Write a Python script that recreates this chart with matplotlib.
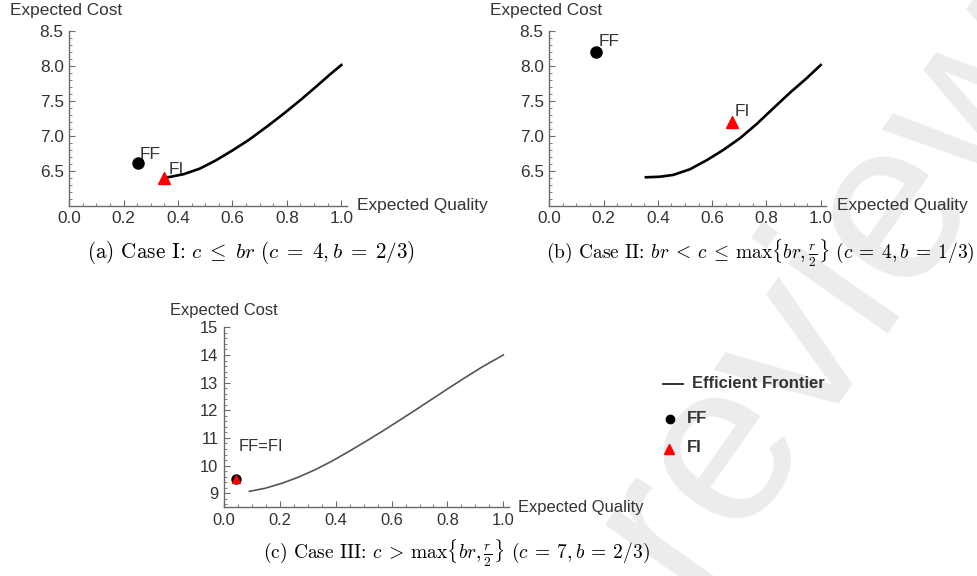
import matplotlib
matplotlib.use("Agg")
import matplotlib.pyplot as plt
from matplotlib.ticker import MultipleLocator, FixedLocator, FormatStrFormatter
from matplotlib.lines import Line2D

# ---------------- data ----------------
a_quality = [0.355, 0.42, 0.48, 0.54, 0.60, 0.66, 0.73, 0.79, 0.85, 0.91, 0.96, 1.0]
a_cost = [6.40, 6.45, 6.53, 6.65, 6.79, 6.94, 7.14, 7.32, 7.51, 7.71, 7.88, 8.01]
a_ff = (0.251, 6.61)
a_fi = (0.35, 6.40)

b_quality = [0.356, 0.408, 0.457, 0.518, 0.58, 0.641, 0.703, 0.764, 0.825, 0.887, 0.948, 1.0]
b_cost = [6.406, 6.414, 6.44, 6.52, 6.65, 6.796, 6.965, 7.167, 7.39, 7.615, 7.82, 8.01]
b_ff = (0.172, 8.19)
b_fi = (0.672, 7.20)

c_quality = [0.091, 0.147, 0.207, 0.266, 0.326, 0.386, 0.445, 0.505, 0.565, 0.624,
             0.684, 0.744, 0.803, 0.863, 0.923, 1.0]
c_cost = [9.07, 9.18, 9.36, 9.58, 9.85, 10.16, 10.50, 10.86, 11.23, 11.61,
          12.00, 12.40, 12.79, 13.18, 13.56, 14.0]
c_ff = (0.043, 9.52)
c_fi = (0.043, 9.50)

x_ticks = [0.0, 0.2, 0.4, 0.6, 0.8, 1.0]
ab_y_ticks = [6.5, 7.0, 7.5, 8.0, 8.5]
c_y_ticks = [9, 10, 11, 12, 13, 14, 15]

captions = [
    r"(a) Case I: $c \;\leq\; br$ $(c \;=\; 4, b \;=\; 2/3)$",
    r"(b) Case II: $br \:<\: c \:\leq\: \max\{br, \frac{r}{2}\}$ $(c \:=\: 4, b \:=\: 1/3)$",
    r"(c) Case III: $c \:>\: \max\{br, \frac{r}{2}\}$ $(c \:=\: 7, b \:=\: 2/3)$",
]

# ---------------- style ----------------
W, H = 978, 576
plt.rcParams["font.family"] = ["Liberation Sans", "DejaVu Sans"]
plt.rcParams["mathtext.fontset"] = "cm"
AX_COL = "#6a6a6a"
TXT_COL = "#333333"

fig = plt.figure(figsize=(W / 100, H / 100), dpi=100)


def P(x, y):
    return x / W, 1 - y / H


# watermark
fig.text(*P(690, 595), "review", rotation=55, rotation_mode="anchor",
         ha="left", va="baseline", fontsize=166, color="#ececec",
         family="Liberation Sans", zorder=-10)


def make_axes(left_px, bottom_px, xscale, yscale, ylim, fs):
    width = xscale * 1.02
    height = yscale * (ylim[1] - ylim[0])
    ax = fig.add_axes([left_px / W, (H - bottom_px) / H, width / W, height / H])
    ax.set_facecolor("none")
    ax.set_xlim(0, 1.02)
    ax.set_ylim(*ylim)
    for s in ("top", "right"):
        ax.spines[s].set_visible(False)
    for s in ("left", "bottom"):
        ax.spines[s].set_color(AX_COL)
        ax.spines[s].set_linewidth(1.0)
    ax.xaxis.set_major_locator(FixedLocator(x_ticks))
    ax.xaxis.set_minor_locator(MultipleLocator(0.05))
    ax.xaxis.set_major_formatter(FormatStrFormatter("%.1f"))
    ax.tick_params(which="both", direction="in", color=AX_COL, labelcolor=TXT_COL,
                   labelsize=fs)
    ax.tick_params(which="major", length=4, width=0.8, pad=4)
    ax.tick_params(which="minor", length=2.2, width=0.6)
    return ax


def label_point(ax, xy, text, dx, dy, fs):
    ax.annotate(text, xy=xy, xytext=(dx, dy), textcoords="offset pixels",
                ha="left", va="bottom", fontsize=fs, color=TXT_COL)


# ---- (a) ----
FS_AB = 12.4
axa = make_axes(69.3, 205.7, 272, 70, (6.0, 8.5), FS_AB)
axa.yaxis.set_major_locator(FixedLocator(ab_y_ticks))
axa.yaxis.set_minor_locator(MultipleLocator(0.1))
axa.yaxis.set_major_formatter(FormatStrFormatter("%.1f"))
axa.plot(a_quality, a_cost, color="black", lw=1.9, solid_joinstyle="round", zorder=2)
axa.plot(*a_ff, "o", color="black", ms=8, zorder=3)
axa.plot(*a_fi, "^", color="#ff0000", ms=8.5, zorder=3)
label_point(axa, a_ff, "FF", 2, 1, FS_AB)
label_point(axa, a_fi, "FI", 4, 1, FS_AB)

# ---- (b) ----
axb = make_axes(549.3, 205.7, 271.4, 70, (6.0, 8.5), FS_AB)
axb.yaxis.set_major_locator(FixedLocator(ab_y_ticks))
axb.yaxis.set_minor_locator(MultipleLocator(0.1))
axb.yaxis.set_major_formatter(FormatStrFormatter("%.1f"))
axb.plot(b_quality, b_cost, color="black", lw=1.9, solid_joinstyle="round", zorder=2)
axb.plot(*b_ff, "o", color="black", ms=8, zorder=3)
axb.plot(*b_fi, "^", color="#ff0000", ms=8.5, zorder=3)
label_point(axb, b_ff, "FF", 3, 3, FS_AB)
label_point(axb, b_fi, "FI", 3, 3, FS_AB)

# ---- (c) ----
FS_C = 11.9
axc = make_axes(224, 507.1, 279.3, 27.66, (8.5, 15.0), FS_C)
axc.yaxis.set_major_locator(FixedLocator(c_y_ticks))
axc.yaxis.set_minor_locator(MultipleLocator(0.2))
axc.plot(c_quality, c_cost, color="#555555", lw=1.2, solid_joinstyle="round", zorder=2)
axc.plot(*c_ff, "o", color="black", ms=6.5, zorder=3)
axc.plot(*c_fi, "^", color="#ff0000", ms=5.5, zorder=4)
axc.annotate("FF=FI", xy=c_ff, xytext=(3, 32), textcoords="offset pixels",
             ha="left", va="center", fontsize=FS_C, color=TXT_COL)

# axis titles
for (xl, yl, xq, yq, fs) in [(10, 10.5, 357, 205.7, FS_AB),
                             (490, 10.5, 837.3, 205.7, FS_AB),
                             (170, 310, 518.3, 507.3, FS_C)]:
    fig.text(*P(xl, yl), "Expected Cost", ha="left", va="center", fontsize=fs, color=TXT_COL)
    fig.text(*P(xq, yq), "Expected Quality", ha="left", va="center", fontsize=fs, color=TXT_COL)

# captions
for (cx, cy), cap, cfs in zip([(251, 253), (760, 253), (456, 553)], captions,
                              [15.2, 14.0, 14.0]):
    fig.text(*P(cx, cy), cap, ha="center", va="center", fontsize=cfs, color="black",
             family="cmr10")

# legend
fig.add_artist(Line2D([663 / W, 683 / W], [1 - 384 / H, 1 - 384 / H], color="#222222",
                      lw=1.3, transform=fig.transFigure))
fig.text(*P(692, 384), "Efficient Frontier", ha="left", va="center", fontsize=12,
         fontweight="bold", color=TXT_COL)
fig.add_artist(Line2D([670 / W], [1 - 419.3 / H], marker="o", ms=6, color="black",
                      ls="none", transform=fig.transFigure))
fig.text(*P(687, 418.5), "FF", ha="left", va="center", fontsize=12,
         fontweight="bold", color=TXT_COL)
fig.add_artist(Line2D([669.5 / W], [1 - 449 / H], marker="^", ms=6.5, color="#ff0000",
                      ls="none", transform=fig.transFigure))
fig.text(*P(687, 447), "FI", ha="left", va="center", fontsize=12,
         fontweight="bold", color=TXT_COL)

fig.savefig("out.png", dpi=100)
